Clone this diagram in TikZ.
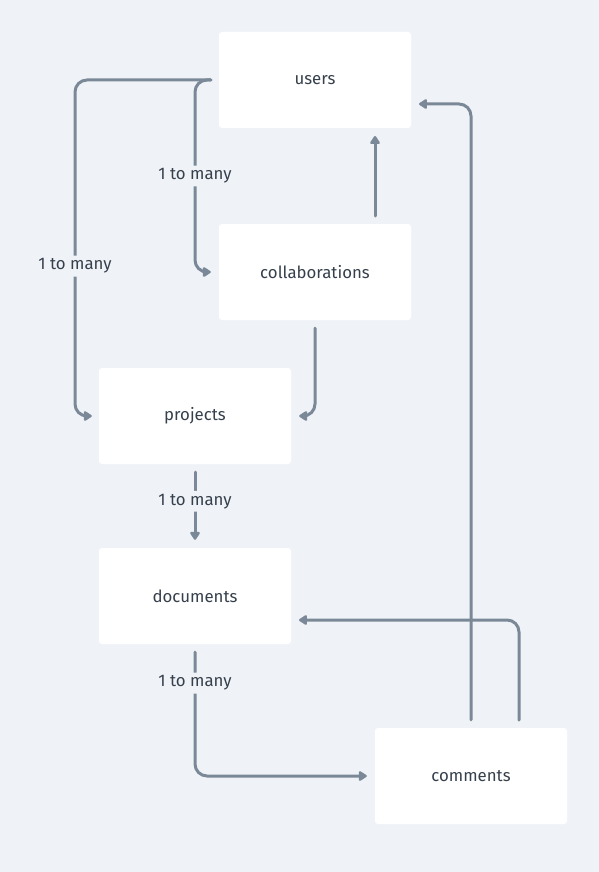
\documentclass[tikz,border=0pt]{standalone}
\usepackage{fontspec}
\setmainfont{Fira Sans}
\usetikzlibrary{arrows.meta}
\definecolor{bg}{HTML}{EFF3F7}
\definecolor{edge}{HTML}{7A8897}
\definecolor{txt}{HTML}{36404C}
\tikzset{
  entity/.style={rectangle, fill=white, rounded corners=3pt, minimum width=192pt, minimum height=96pt, inner sep=0pt, text=txt, font=\fontsize{16.8}{20}\selectfont},
  conn/.style={draw=edge, line width=3pt, line cap=round, rounded corners=12pt, -{Triangle[length=9pt,width=11pt,round]}},
  lbl/.style={fill=bg, text=txt, inner sep=3pt, font=\fontsize{16.8}{20}\selectfont}
}
\begin{document}
\begin{tikzpicture}[x=1pt,y=-1pt]
\fill[bg] (0,0) rectangle (599,872);
\useasboundingbox (0,0) rectangle (599,872);
\node[entity] (users) at (315,80) {users};
\node[entity] (collab) at (315,272) {collaborations};
\node[entity] (projects) at (195,416) {projects};
\node[entity] (documents) at (195,596) {documents};
\node[entity] (comments) at (471,776) {comments};
% users -> projects
\draw[conn] ([xshift=-8pt]users.west) -- (75,80) -- node[lbl,pos=0.554]{1 to many} (75,416) -- ([xshift=-7pt]projects.west);
% users -> collaborations
\draw[conn] ([xshift=-8pt]users.west) -- (195,80) -- node[lbl,pos=0.5]{1 to many} (195,272) -- ([xshift=-8pt]collab.west);
% collaborations -> users
\draw[conn,rounded corners=0pt] (375,216) -- (375,136);
% collaborations -> projects
\draw[conn] ([yshift=-8pt]collab.south) -- (315,416) -- ([xshift=8pt]projects.east);
% projects -> documents
\draw[conn] ([yshift=-8pt]projects.south) -- node[lbl,pos=0.43]{1 to many} ([yshift=8pt]documents.north);
% documents -> comments
\draw[conn] ([yshift=-8pt]documents.south) -- node[lbl,pos=0.25]{1 to many} (195,776) -- ([xshift=-8pt]comments.west);
% comments -> users
\draw[conn] ([yshift=8pt]comments.north) -- (471,104) -- (419,104);
% comments -> documents
\draw[conn] (519,720) -- (519,620) -- (299,620);
\end{tikzpicture}
\end{document}
